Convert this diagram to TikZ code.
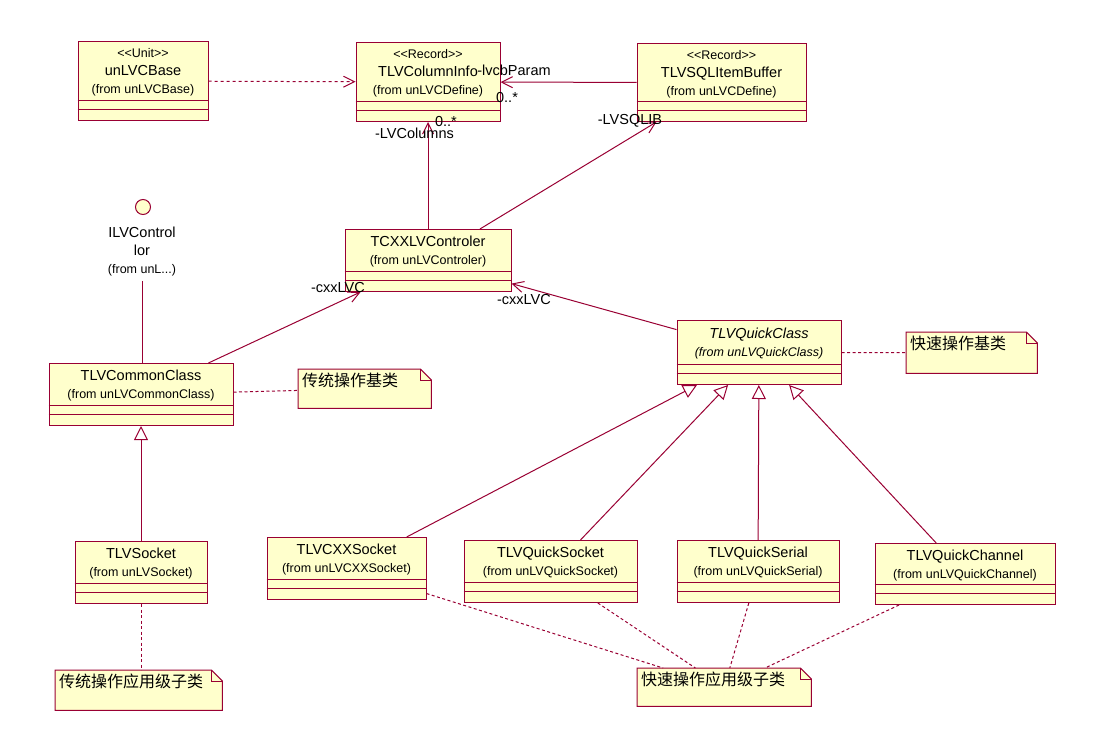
\documentclass[tikz,border=0pt]{standalone}
\usepackage{fontspec}
\setmainfont{Liberation Sans}
\newfontfamily\cjk{Noto Sans CJK SC}
\usetikzlibrary{arrows.meta,calc}
\definecolor{rose}{HTML}{990033}
\definecolor{paper}{HTML}{FFFFCC}
\tikzstyle{umlbox}=[rectangle, draw=rose, fill=paper, line width=1pt, inner sep=0pt, anchor=north]
\tikzstyle{umltext}=[align=center, inner sep=0pt, font=\fontsize{14.5}{18}\selectfont]
\tikzstyle{notebox}=[rectangle, inner sep=0pt, anchor=north west]
\tikzstyle{notetext}=[inner sep=0pt, anchor=west, font=\fontsize{16}{18}\selectfont\cjk]
\tikzstyle{rolelabel}=[inner sep=0pt, font=\fontsize{14.5}{17}\selectfont]
\tikzstyle{assoc}=[draw=rose, line width=1pt, -{Straight Barb[length=11pt,width=11pt]}]
\tikzstyle{depend}=[assoc, dash pattern=on 3pt off 3pt]
\tikzstyle{inherit}=[draw=rose, line width=1pt, -{Triangle[open,length=14pt,width=14pt]}]
\tikzstyle{anchorline}=[draw=rose, line width=1pt, dash pattern=on 3pt off 2.5pt]
\newcommand{\stereo}[1]{{\fontsize{12.5}{13}\selectfont<\kern0pt<#1>\kern0pt>}}
\newcommand{\fromunit}[1]{{\fontsize{12.5}{14}\selectfont(from #1)}}
\newcommand{\umlclass}[6]{%
  \node[umlbox, minimum width=#4pt, minimum height=#5pt] (#1) at (#2,#3) {};
  \node[umltext] (#1-txt) at ([yshift=-2pt]$(#1.north)!.5!([yshift=21pt]#1.south)$) {#6};
  \draw[rose, line width=1pt] ([yshift=21pt]#1.south west) -- ([yshift=21pt]#1.south east)
    ([yshift=12pt]#1.south west) -- ([yshift=12pt]#1.south east);
}
\newcommand{\umlnote}[6]{%
  \node[notebox, minimum width=#4pt, minimum height=#5pt] (#1) at (#2,#3) {};
  \draw[rose, fill=paper, line width=1pt] (#1.south west) |- ([xshift=-11pt]#1.north east)
    -- ([yshift=-11pt]#1.north east) -- (#1.south east) -- cycle;
  \draw[rose, line width=1pt] ([xshift=-11pt]#1.north east) |- ([yshift=-11pt]#1.north east);
  \node[notetext] (#1-txt) at ([shift={(4,11.5)}]#1.north west) {#6};
}
\begin{document}
\begin{tikzpicture}[x=1pt, y=-1pt]
\useasboundingbox (0,0) rectangle (1107,747);
\umlclass{base}{143}{41}{130}{79}{\stereo{Unit}\\unLVCBase\\\fromunit{unLVCBase}}
\umlclass{colinfo}{428}{42}{144}{79}{\stereo{Record}\\TLVColumnInfo\\\fromunit{unLVCDefine}}
\umlclass{sqlbuf}{721.5}{43}{169}{78}{\stereo{Record}\\TLVSQLItemBuffer\\\fromunit{unLVCDefine}}
\umlclass{ctrl}{428}{229}{166}{62}{TCXXLVControler\\\fromunit{unLVControler}}
\umlclass{common}{141}{363}{184}{62}{TLVCommonClass\\\fromunit{unLVCommonClass}}
\umlclass{quick}{759}{320}{164}{64}{\itshape TLVQuickClass\\\itshape\fromunit{unLVQuickClass}}
\umlclass{socket}{141}{541}{132}{62}{TLVSocket\\\fromunit{unLVSocket}}
\umlclass{cxxsock}{346.5}{537}{159}{62}{TLVCXXSocket\\\fromunit{unLVCXXSocket}}
\umlclass{qsock}{550.5}{540}{173}{62}{TLVQuickSocket\\\fromunit{unLVQuickSocket}}
\umlclass{qserial}{758}{540}{162}{62}{TLVQuickSerial\\\fromunit{unLVQuickSerial}}
\umlclass{qchan}{965}{543}{180}{61}{TLVQuickChannel\\\fromunit{unLVQuickChannel}}
\umlnote{note1}{298}{369}{133}{39}{传统操作基类}
\umlnote{note2}{906}{332}{131}{41}{快速操作基类}
\umlnote{note3}{55}{670}{167}{40}{传统操作应用级子类}
\umlnote{note4}{637}{668}{174}{38}{快速操作应用级子类}
\node[circle, draw=rose, fill=paper, line width=1pt, minimum size=15pt, inner sep=0pt] (iface) at (143,207) {};
\node[umltext] (iface-txt) at (142,252) {ILVControl\\lor\\\fromunit{unL...}};
\draw[rose, line width=1pt] ([yshift=-4pt]iface-txt.south) -- (iface-txt.south |- common.north);
\draw[depend] (base) -- (colinfo);
\draw[assoc] (sqlbuf) -- (colinfo);
\draw[assoc] (ctrl) -- (colinfo);
\draw[assoc] (ctrl) -- (sqlbuf);
\draw[assoc] (common) -- (ctrl);
\draw[assoc] (quick) -- (ctrl);
\draw[inherit] (socket) -- (common);
\foreach \sub in {cxxsock,qsock,qserial,qchan}
  \draw[inherit] (\sub) -- (quick);
\draw[anchorline] (common) -- (note1);
\draw[anchorline] (quick) -- (note2);
\draw[anchorline] (socket.south) -- (socket.south |- note3.north);
\foreach \sub in {cxxsock,qsock,qserial,qchan}
  \draw[anchorline] (\sub) -- (note4);
\node[rolelabel] (lbl-param) at (514,70) {-lvcbParam};
\node[rolelabel] (lbl-parammult) at (507,98) {0..*};
\node[rolelabel] (lbl-cols) at (414.5,133) {-LVColumns};
\node[rolelabel] (lbl-colsmult) at (446,122) {0..*};
\node[rolelabel] (lbl-sqlib) at (630,121) {-LVSQLIB};
\node[rolelabel] (lbl-cxx1) at (338,288) {-cxxLVC};
\node[rolelabel] (lbl-cxx2) at (524,300) {-cxxLVC};
\end{tikzpicture}
\end{document}
